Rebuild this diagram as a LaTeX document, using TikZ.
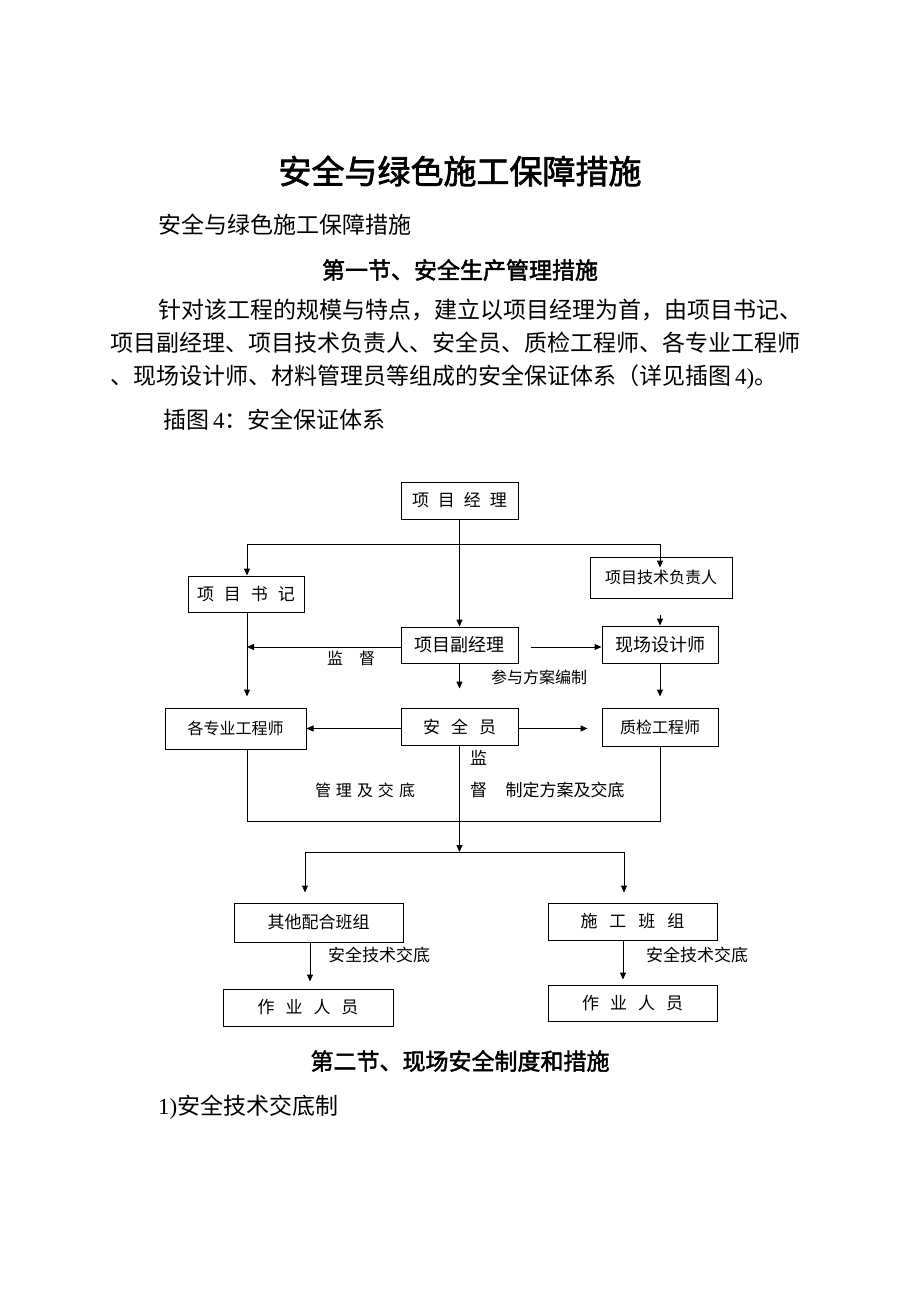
\documentclass[tikz,border=0pt]{standalone}
\usepackage{fontspec}
\usetikzlibrary{arrows.meta}
\newfontfamily\cjk{Noto Sans CJK SC}[AutoFakeBold=2]
\newfontfamily\lat{Liberation Serif}
\newcommand{\fs}[1]{\fontsize{#1pt}{#1pt}\selectfont}
\newcommand{\gp}[1]{\hspace{#1pt}}
\tikzset{
  box/.style={draw, line width=1pt, inner sep=0pt, font=\cjk\fs{17}},
  lbl/.style={inner sep=0pt, font=\cjk\fs{17}},
  txt/.style={inner sep=0pt, font=\cjk\fs{23}},
  ln/.style={line width=1pt},
  arr/.style={line width=1pt, -{Triangle[length=7pt,width=6pt]}}
}
\begin{document}
\begin{tikzpicture}[x=1pt,y=-1pt]
\fill[white] (0,0) rectangle (920,1302);
\useasboundingbox (0,0) rectangle (920,1302);

% page text
\node[txt, font=\cjk\bfseries\fs{33}] (title) at (460,171) {安全与绿色施工保障措施};
\node[txt, anchor=west] (sub) at (158,225) {安全与绿色施工保障措施};
\node[txt, font=\cjk\bfseries\fs{23}] (h1) at (460,270) {第一节、安全生产管理措施};
\node[txt, anchor=west] (p1) at (158,310) {针对该工程的规模与特点，建立以项目经理为首，由项目书记、};
\node[txt, anchor=west] (p2) at (110,343) {项目副经理、项目技术负责人、安全员、质检工程师、各专业工程师};
\node[txt, anchor=west] (p3) at (110,377) {、现场设计师、材料管理员等组成的安全保证体系（详见插图\gp{4}{\lat 4)}。};
\node[txt, anchor=west] (cap) at (163,420) {插图\gp{4}{\lat 4}：安全保证体系};
\node[txt, font=\cjk\bfseries\fs{23}] (h2) at (460,1061) {第二节、现场安全制度和措施};
\node[txt, anchor=west] (item) at (158,1107) {{\lat 1)}安全技术交底制};

% boxes
\node[box, minimum width=117pt, minimum height=37pt] (pm) at (459.5,500.5) {项\gp{9}目\gp{9}经\gp{9}理};
\node[box, minimum width=116pt, minimum height=36pt] (sec) at (246,594) {项\gp{10}目\gp{10}书\gp{10}记};
\node[box, minimum width=142pt, minimum height=41pt, font=\cjk\fs{16}] (tech) at (661,577.5) {项目技术负责人};
\node[box, minimum width=117pt, minimum height=36pt, font=\cjk\fs{18}] (vpm) at (459.5,645) {项目副经理};
\node[box, minimum width=116pt, minimum height=37pt, font=\cjk\fs{18}] (des) at (660,644.5) {现场设计师};
\node[box, minimum width=141pt, minimum height=41pt, font=\cjk\fs{16}] (eng) at (235.5,728.5) {各专业工程师};
\node[box, minimum width=117pt, minimum height=37pt] (safe) at (459.5,726.5) {安\gp{11}全\gp{11}员};
\node[box, minimum width=116pt, minimum height=38pt, font=\cjk\fs{16}] (qc) at (660,727) {质检工程师};
\node[box, minimum width=169pt, minimum height=39pt] (oth) at (318.5,922.5) {其他配合班组};
\node[box, minimum width=169pt, minimum height=37pt] (con) at (632.5,921.5) {施\gp{12}工\gp{12}班\gp{12}组};
\node[box, minimum width=170pt, minimum height=37pt] (w1) at (308,1007.5) {作\gp{11}业\gp{11}人\gp{11}员};
\node[box, minimum width=169pt, minimum height=36pt] (w2) at (632.5,1003) {作\gp{11}业\gp{11}人\gp{11}员};

% labels
\node[lbl, font=\cjk\fs{16}] (l1) at (351,658) {监\gp{16}督};
\node[lbl, font=\cjk\fs{16}] (l2) at (539,677) {参与方案编制};
\node[lbl, font=\cjk\fs{16}] (l3) at (365,790) {管\gp{5}理\gp{5}及\gp{5}交\gp{5}底};
\node[lbl] (l4) at (478.5,758) {监};
\node[lbl] (l5) at (478.5,790) {督};
\node[lbl] (l6) at (565,790) {制定方案及交底};
\node[lbl] (l7) at (379,955) {安全技术交底};
\node[lbl] (l8) at (697,955) {安全技术交底};

% coordinates
\coordinate (hl) at (247,544);
\coordinate (hr) at (660,544);
\coordinate (bl) at (247,821);
\coordinate (br) at (660,821);
\coordinate (mid) at (459.5,852);
\coordinate (ml) at (305,852);
\coordinate (mr) at (624,852);
\coordinate (lx) at (310,0);
\coordinate (rx) at (623,0);

% connectors
\draw[arr] (pm.south) -- (vpm.north);
\draw[ln] (hl) -- (hr);
\draw[arr] (hl) -- (sec.north -| hl);
\draw[arr] (hr) -- ([yshift=-11pt]tech.north -| hr);
\draw[arr] ([yshift=-16pt]tech.south -| hr) -- (des.north -| hr);
\draw[arr] ([yshift=-2pt]vpm.west) -- ([yshift=-2pt]vpm.west -| hl);
\draw[arr] ([xshift=12pt,yshift=-2pt]vpm.east) -- ([yshift=-2pt]vpm.east -| des.west);
\draw[arr] (sec.south -| hl) -- ([yshift=11pt]eng.north -| hl);
\draw[arr] (vpm.south) -- ([yshift=19pt]safe.north);
\draw[arr] (des.south -| hr) -- ([yshift=11pt]qc.north -| hr);
\draw[arr] ([yshift=-2pt]safe.west) -- ([yshift=-2pt]safe.west -| eng.east);
\draw[arr] ([yshift=-2pt]safe.east) -- ([xshift=-14pt,yshift=-2pt]safe.east -| qc.west);
\draw[ln] (eng.south -| hl) -- (bl) -- (br) -- (qc.south -| hr);
\draw[arr] (safe.south) -- (mid);
\draw[ln] (ml) -- (mr);
\draw[arr] (ml) -- ([yshift=10pt]oth.north -| ml);
\draw[arr] (mr) -- ([yshift=10pt]con.north -| mr);
\draw[arr] (oth.south -| lx) -- ([yshift=7pt]w1.north -| lx);
\draw[arr] (con.south -| rx) -- ([yshift=5pt]w2.north -| rx);
\end{tikzpicture}
\end{document}
